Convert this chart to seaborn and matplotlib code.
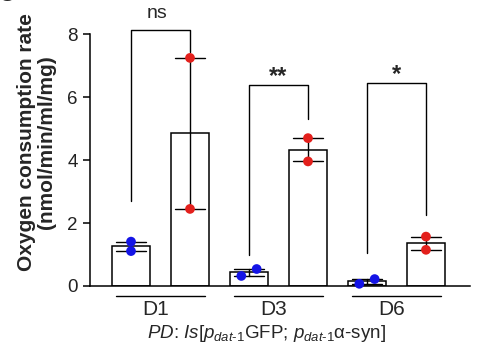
import numpy as np
import pandas as pd
import seaborn as sns
import matplotlib.pyplot as plt

sns.set_theme(style="ticks")
plt.rcParams['font.family'] = ['Liberation Sans', 'DejaVu Sans']
plt.rcParams['mathtext.fontset'] = 'custom'
plt.rcParams['mathtext.rm'] = 'Liberation Sans'
plt.rcParams['mathtext.it'] = 'Liberation Sans:italic'
plt.rcParams['mathtext.bf'] = 'Liberation Sans:bold'

# data (two replicates per bar)
days = ["D1", "D3", "D6"]
strains = ["ctrl", "PD"]
ctrl_vals = [[1.41, 1.11], [0.32, 0.54], [0.07, 0.22]]
pd_vals = [[7.25, 2.45], [4.70, 3.96], [1.57, 1.15]]

# significance annotations
sig_labels = ["ns", "**", "*"]
bracket_top = [8.15, 6.40, 6.45]
bracket_left_end = [2.69, 0.98, 1.05]
bracket_right_end = [7.45, 5.31, 2.26]

blue = "#1414e6"
red = "#e3201c"

rows = []
for d, c, p in zip(days, ctrl_vals, pd_vals):
    for v in c:
        rows.append({"group": f"{d}_ctrl", "strain": "ctrl", "value": v})
    for v in p:
        rows.append({"group": f"{d}_PD", "strain": "PD", "value": v})
df = pd.DataFrame(rows)
order = [f"{d}_{s}" for d in days for s in strains]

fig = plt.figure(figsize=(4.94, 3.53), dpi=100)
ax = fig.add_axes([90 / 494, 1 - 286 / 353, 380 / 494, 251.7 / 353])

sns.barplot(data=df, x="group", y="value", order=order, color="white",
            edgecolor="black", linewidth=1.1, width=0.64, errorbar="se",
            capsize=0.5, err_kws={"color": "black", "linewidth": 1.0}, ax=ax)
n_before = len(ax.collections)
sns.swarmplot(data=df, x="group", y="value", order=order, hue="strain",
              palette={"ctrl": blue, "PD": red}, size=7, legend=False,
              zorder=4, ax=ax)
for coll in ax.collections:
    coll.set_clip_on(False)

ax.set_xlim(-0.695, 5.746)
ax.set_ylim(0, 8)
ax.set_yticks([0, 2, 4, 6, 8])
ax.set_xticks([])
ax.set_xlabel("")
sns.despine(ax=ax)
for s in ["left", "bottom"]:
    ax.spines[s].set_linewidth(1.1)
    ax.spines[s].set_color("black")
ax.tick_params(axis="y", length=5, width=1.1, labelsize=13.5, colors="black",
               labelcolor="#222222", pad=4)
ax.set_ylabel("Oxygen consumption rate\n(nmol/min/ml/mg)", fontsize=15,
              fontweight="bold", linespacing=1.1)
ax.yaxis.set_label_coords(-0.089, 0.57)

# brackets + stars
for i, lab in enumerate(sig_labels):
    x0, x1 = 2 * i, 2 * i + 1
    ax.plot([x0, x0, x1, x1],
            [bracket_left_end[i], bracket_top[i], bracket_top[i], bracket_right_end[i]],
            color="black", lw=1.0, clip_on=False, zorder=2)
    if lab == "ns":
        ax.text(x0 + 0.45, bracket_top[i] + 0.25, lab, ha="center", va="bottom",
                fontsize=14)
    else:
        ax.text(x0 + 0.5, bracket_top[i] - 0.1, lab, ha="center", va="bottom",
                fontsize=17, fontweight="bold")

# group underlines and labels
for i, d in enumerate(days):
    c = 2 * i + 0.5
    ax.plot([c - 0.75, c + 0.75], [-0.32, -0.32], color="black", lw=1.0,
            clip_on=False)
    ax.text(c - 0.08, -0.76, d, ha="center", va="center", fontsize=15)

ax.text(2.3, -1.5, "$PD$: $Is$[$p_{dat\u20101}$GFP; $p_{dat\u20101}$\u03b1-syn]",
        ha="center", va="center", fontsize=13.5)

fig.text(-0.004, 1.012, "C", fontsize=16, fontweight="bold", ha="left", va="center")

# seaborn places the swarm at draw time; freeze it, then centre each pair
# on its bar: points that nearly touch are spread, lower one on the left
fig.canvas.draw()
for coll in ax.collections[n_before:]:
    if "draw" in coll.__dict__:
        del coll.draw
    off = np.asarray(coll.get_offsets(), dtype=float)
    if len(off) == 0:
        continue
    xs, ys = off[:, 0].copy(), off[:, 1]
    cen = np.round(xs)
    for c in np.unique(cen):
        m = cen == c
        idx = np.where(m)[0][np.argsort(ys[m])]
        if np.ptp(ys[m]) < 0.27:
            xs[idx] = c + np.linspace(-0.13, 0.13, len(idx))
        else:
            xs[idx] = c
    coll.set_offsets(np.column_stack([xs, ys]))

fig.savefig("out.png", dpi=100)
